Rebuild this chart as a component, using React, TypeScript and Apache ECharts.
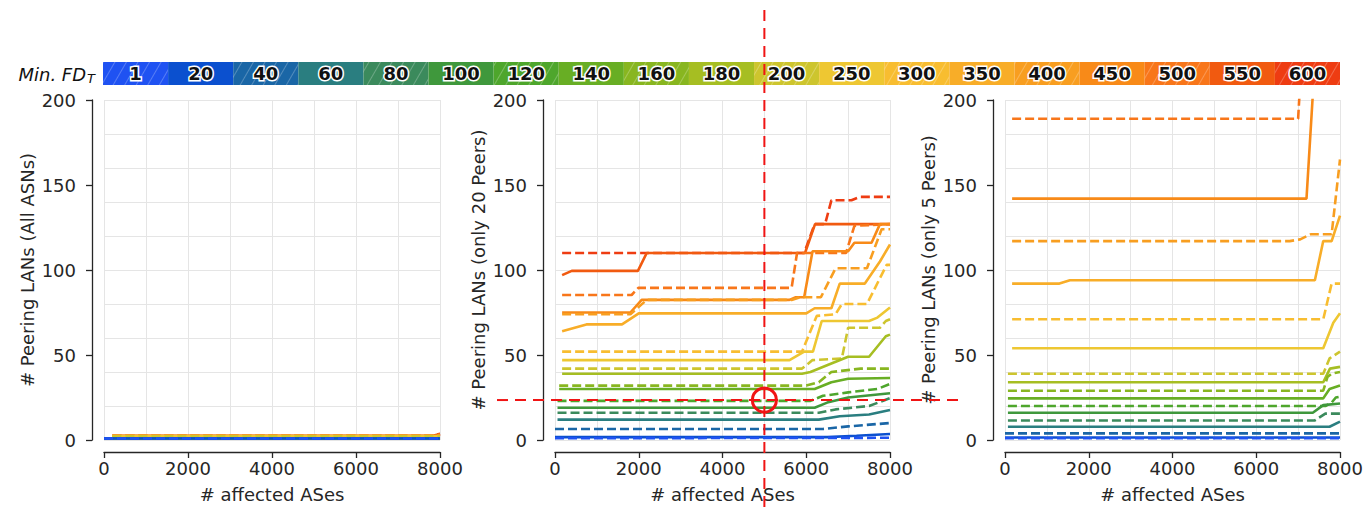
import React, { useEffect, useRef } from "react";
import * as echarts from "echarts";

type Pt = [number, number];

// ---------- data ----------
const thresholds = ["1", "20", "40", "60", "80", "100", "120", "140", "160", "180", "200", "250", "300", "350", "400", "450", "500", "550", "600"];
const panelTitles = ["# Peering LANs (All ASNs)", "# Peering LANs (only 20 Peers)", "# Peering LANs (only 5 Peers)"];
const xTitle = "# affected ASes";
const xMin = 0, xMax = 8000, xStep = 2000, xGridStep = 1000;
const yMin = 0, yMax = 200, yStep = 50, yGridStep = 20;
const crossPoint: Pt = [5000, 23.5]; // red marker in the middle panel

// lines per threshold (index matches thresholds), panel "All ASNs"
const allAsnLines: Pt[][] = [
  [[0, 0.9], [8000, 0.9]],
  [[0, 0.9], [8000, 0.9]],
  [[0, 1], [8000, 1]],
  [[0, 1], [8000, 1]],
  [[0, 1], [8000, 1]],
  [[0, 1], [8000, 1]],
  [[0, 1], [8000, 1]],
  [[0, 1], [8000, 1]],
  [[0, 1], [8000, 1]],
  [[0, 1], [8000, 1]],
  [[200, 2.2], [8000, 2.2]],
  [[200, 2.2], [8000, 2.2]],
  [[200, 2.3], [8000, 2.3]],
  [[200, 2.3], [8000, 2.3]],
  [[200, 2.3], [8000, 2.3]],
  [[200, 2.3], [8000, 2.3]],
  [[200, 2.4], [7800, 2.4], [8000, 3.2]],
  [[200, 2.4], [7800, 2.4], [8000, 3.5]],
  [[200, 2.4], [7800, 2.4], [8000, 3.6]],
];

// panel "only 20 Peers"
const peers20Lines: Pt[][] = [
  [[0, 1.0], [8000, 1.3]],
  [[0, 1.7], [6500, 1.7], [7200, 2.5], [8000, 3.5]],
  [[0, 6.5], [6400, 6.5], [7000, 8], [8000, 10]],
  [[60, 12], [6300, 12], [6800, 14], [7500, 15], [8000, 17.6]],
  [[60, 16], [6300, 16], [6700, 18], [7500, 20], [8000, 24.6]],
  [[60, 19], [6200, 19], [6500, 22], [7000, 25], [8000, 27.5]],
  [[60, 23], [6100, 23], [6400, 26], [7000, 28], [7700, 30], [8000, 33]],
  [[100, 30], [6200, 30], [6600, 34], [7000, 36], [8000, 36.5]],
  [[100, 32], [6000, 32], [6300, 34], [6600, 40], [7300, 42], [8000, 42]],
  [[170, 39], [5900, 39], [6100, 40], [6600, 45], [7000, 49], [7500, 49], [7900, 61], [8000, 62]],
  [[170, 42], [5900, 42], [6150, 47], [6850, 48], [7000, 66], [7760, 66], [7900, 70], [8000, 71]],
  [[170, 47], [5600, 47], [5950, 52], [6160, 52], [6370, 70], [7500, 70], [7700, 72], [8000, 78]],
  [[170, 52], [5900, 52], [6250, 73], [6700, 74], [6850, 80], [7450, 80], [7920, 103], [8000, 103]],
  [[170, 64], [750, 68], [1600, 68], [2000, 74.5], [6000, 74.5], [6200, 77.5], [6600, 77.5], [6800, 92], [7400, 92], [7760, 105], [8000, 115]],
  [[170, 74], [1800, 74], [2190, 82.4], [5650, 82.4], [5850, 84], [6350, 84], [6700, 101], [7450, 101], [7800, 124], [8000, 124]],
  [[170, 75], [1800, 75], [2070, 82.4], [5600, 82.4], [5750, 84], [5950, 84], [6150, 111], [7000, 111], [7150, 116], [7560, 116], [7760, 127], [8000, 127]],
  [[170, 85.3], [1830, 85.3], [1990, 89.5], [5650, 89.5], [5780, 110], [6950, 110], [7150, 126], [8000, 127]],
  [[170, 97], [400, 99.5], [1980, 99.5], [2190, 110], [5970, 110], [6210, 127], [8000, 127]],
  [[170, 110], [5950, 110], [6200, 127], [6450, 127], [6600, 141], [7080, 141], [7280, 143], [8000, 143]],
];

// panel "only 5 Peers" (550 and 600 lie above the 200 limit)
const peers5Lines: Pt[][] = [
  [[0, 1], [8000, 1]],
  [[0, 1.5], [8000, 1.5]],
  [[0, 3.9], [8000, 3.9]],
  [[70, 7.8], [7750, 7.8], [8000, 10.8]],
  [[70, 11.5], [7400, 11.5], [7650, 15.5], [8000, 15.5]],
  [[70, 16], [7350, 16], [7600, 20.5], [8000, 21.5]],
  [[70, 20], [7650, 20], [7800, 22], [7900, 25], [8000, 25.5]],
  [[70, 24.5], [7600, 24.5], [7750, 30], [8000, 32]],
  [[70, 29], [7600, 29], [7700, 37], [7800, 39], [8000, 40]],
  [[70, 34], [7600, 34], [7760, 42], [8000, 43]],
  [[70, 39], [7600, 39], [7750, 48], [8000, 52]],
  [[170, 54], [7600, 54], [7840, 69], [8000, 74.5]],
  [[170, 71], [7600, 71], [7800, 92], [8000, 92]],
  [[170, 92], [1300, 92], [1550, 94], [7400, 94], [7600, 117], [7800, 117], [8000, 132]],
  [[170, 117], [6800, 117], [7050, 118], [7300, 121], [7800, 121], [8000, 165]],
  [[170, 142], [7200, 142], [7380, 215]],
  [[170, 189], [7000, 189], [7060, 215]],
  [],
  [],
];

// ---------- styles ----------
const palette = ["#1f52f2", "#0b50cf", "#1a66a6", "#2a7e80", "#3b8a5c", "#3f983c", "#4ea62c", "#68ae24", "#88b620", "#a6be22", "#cdc52e", "#eec732", "#f8bd30", "#f8ad28", "#f89e20", "#f88a18", "#f8761a", "#f15a10", "#ee3c12"];
const FONT = "DejaVu Sans";
const INK = "#262626";
const panelLefts = [104, 555, 1005];
const panelWidths = [336, 335, 335];
const Y_NAME_GAP = 56;
const PANEL_TOP = 100;
const PANEL_H = 340;

export default function App() {
  const ref = useRef<HTMLDivElement>(null);
  useEffect(() => {
    if (!ref.current) return;
    const chart = echarts.init(ref.current, undefined, { renderer: "svg" });
    const panels = [allAsnLines, peers20Lines, peers5Lines];

    const grid: any[] = panelLefts.map((l, i) => ({ left: l, top: PANEL_TOP, width: panelWidths[i], height: PANEL_H }));
    grid.push({ left: 103, top: 62, width: 1237, height: 23 });

    const xAxis: any[] = [];
    const yAxis: any[] = [];
    panels.forEach((_, p) => {
      xAxis.push({
        type: "value", gridIndex: p, min: xMin, max: xMax, interval: xStep, offset: 12, position: "bottom",
        axisLine: { show: true, onZero: false, lineStyle: { color: INK, width: 1.3 } },
        axisTick: { show: true, length: 6, lineStyle: { color: INK, width: 1.3 } },
        axisLabel: { fontSize: 18, color: INK, fontFamily: FONT, margin: 7, formatter: (v: number) => String(v) },
        splitLine: { show: false },
        name: xTitle, nameLocation: "middle", nameGap: 33, nameMoveOverlap: false,
        nameTextStyle: { fontSize: 18, color: INK, fontFamily: FONT },
      });
      xAxis.push({
        type: "value", gridIndex: p, min: xMin, max: xMax, interval: xGridStep, position: "bottom",
        axisLine: { show: false }, axisTick: { show: false }, axisLabel: { show: false },
        splitLine: { show: true, lineStyle: { color: "#e5e5e5", width: 1 } },
      });
      yAxis.push({
        type: "value", gridIndex: p, min: yMin, max: yMax, interval: yStep, offset: 12, position: "left",
        axisLine: { show: true, onZero: false, lineStyle: { color: INK, width: 1.3 } },
        axisTick: { show: true, length: 6, lineStyle: { color: INK, width: 1.3 } },
        axisLabel: { fontSize: 18, color: INK, fontFamily: FONT, margin: 16 },
        splitLine: { show: false },
        name: panelTitles[p], nameLocation: "middle", nameGap: Y_NAME_GAP, nameRotate: 90, nameMoveOverlap: false,
        nameTextStyle: { fontSize: 18, color: INK, fontFamily: FONT },
      });
      yAxis.push({
        type: "value", gridIndex: p, min: yMin, max: yMax, interval: yGridStep, position: "left",
        axisLine: { show: false }, axisTick: { show: false }, axisLabel: { show: false },
        splitLine: { show: true, lineStyle: { color: "#e5e5e5", width: 1 } },
      });
    });
    // colour bar axes
    xAxis.push({ type: "category", gridIndex: 3, data: thresholds, show: false, boundaryGap: true });
    yAxis.push({ type: "value", gridIndex: 3, min: 0, max: 1, show: false });

    const series: any[] = [];
    panels.forEach((lines, p) => {
      // low thresholds drawn last (on top)
      for (let i = lines.length - 1; i >= 0; i--) {
        series.push({
          type: "line", xAxisIndex: p * 2, yAxisIndex: p * 2, data: lines[i], symbol: "none", showSymbol: false,
          silent: true, clip: true,
          lineStyle: { color: palette[i], width: 2.6, type: i % 2 === 0 ? [9, 4] : "solid", cap: "butt" },
        });
      }
    });
    series.push({
      type: "bar", xAxisIndex: 6, yAxisIndex: 6, barWidth: "100%", barCategoryGap: "0%", silent: true,
      data: thresholds.map((t, i) => ({
        value: 1,
        itemStyle: {
          color: palette[i],
          decal: i % 2 === 0
            ? { symbol: "rect", symbolSize: 1, dashArrayX: [1, 0], dashArrayY: [1, 9], rotation: -Math.PI / 3, color: "rgba(255,255,255,0.25)" }
            : { symbol: "none", dashArrayX: [0, 1], dashArrayY: [0, 1] },
        },
      })),
      label: {
        show: true, position: "inside", formatter: "{b}", fontSize: 18, fontWeight: "bold", fontFamily: FONT,
        color: "#111", textBorderColor: "#fff", textBorderWidth: 3,
      },
    });

    chart.setOption({
      animation: false,
      backgroundColor: "#ffffff",
      textStyle: { fontFamily: FONT },
      grid, xAxis, yAxis, series,
    });

    const c = chart.convertToPixel({ xAxisIndex: 2, yAxisIndex: 2 }, crossPoint) as number[];
    const red = "#f01414";
    chart.setOption({
      graphic: [
        {
          type: "text", x: 95, y: 74, z: 100,
          style: {
            text: "{a|Min. FD}{b|T}", align: "right", verticalAlign: "middle",
            rich: {
              a: { fontSize: 18, fontStyle: "italic", fontFamily: FONT, fill: "#111" },
              b: { fontSize: 13, fontStyle: "italic", fontFamily: FONT, fill: "#111", padding: [9, 0, 0, 1] },
            },
          },
        },
        { type: "line", z: 100, shape: { x1: c[0], y1: 10, x2: c[0], y2: 511 }, style: { stroke: red, lineWidth: 2, lineDash: [11, 7] } },
        { type: "line", z: 100, shape: { x1: 497, y1: c[1], x2: 965, y2: c[1] }, style: { stroke: red, lineWidth: 2, lineDash: [11, 7] } },
        { type: "circle", z: 100, shape: { cx: c[0], cy: c[1], r: 12 }, style: { fill: "none", stroke: red, lineWidth: 3 } },
      ],
    });

    return () => chart.dispose();
  }, []);
  return <div ref={ref} style={{ position: "absolute", left: 0, top: 0, width: 1366, height: 511 }} />;
}
